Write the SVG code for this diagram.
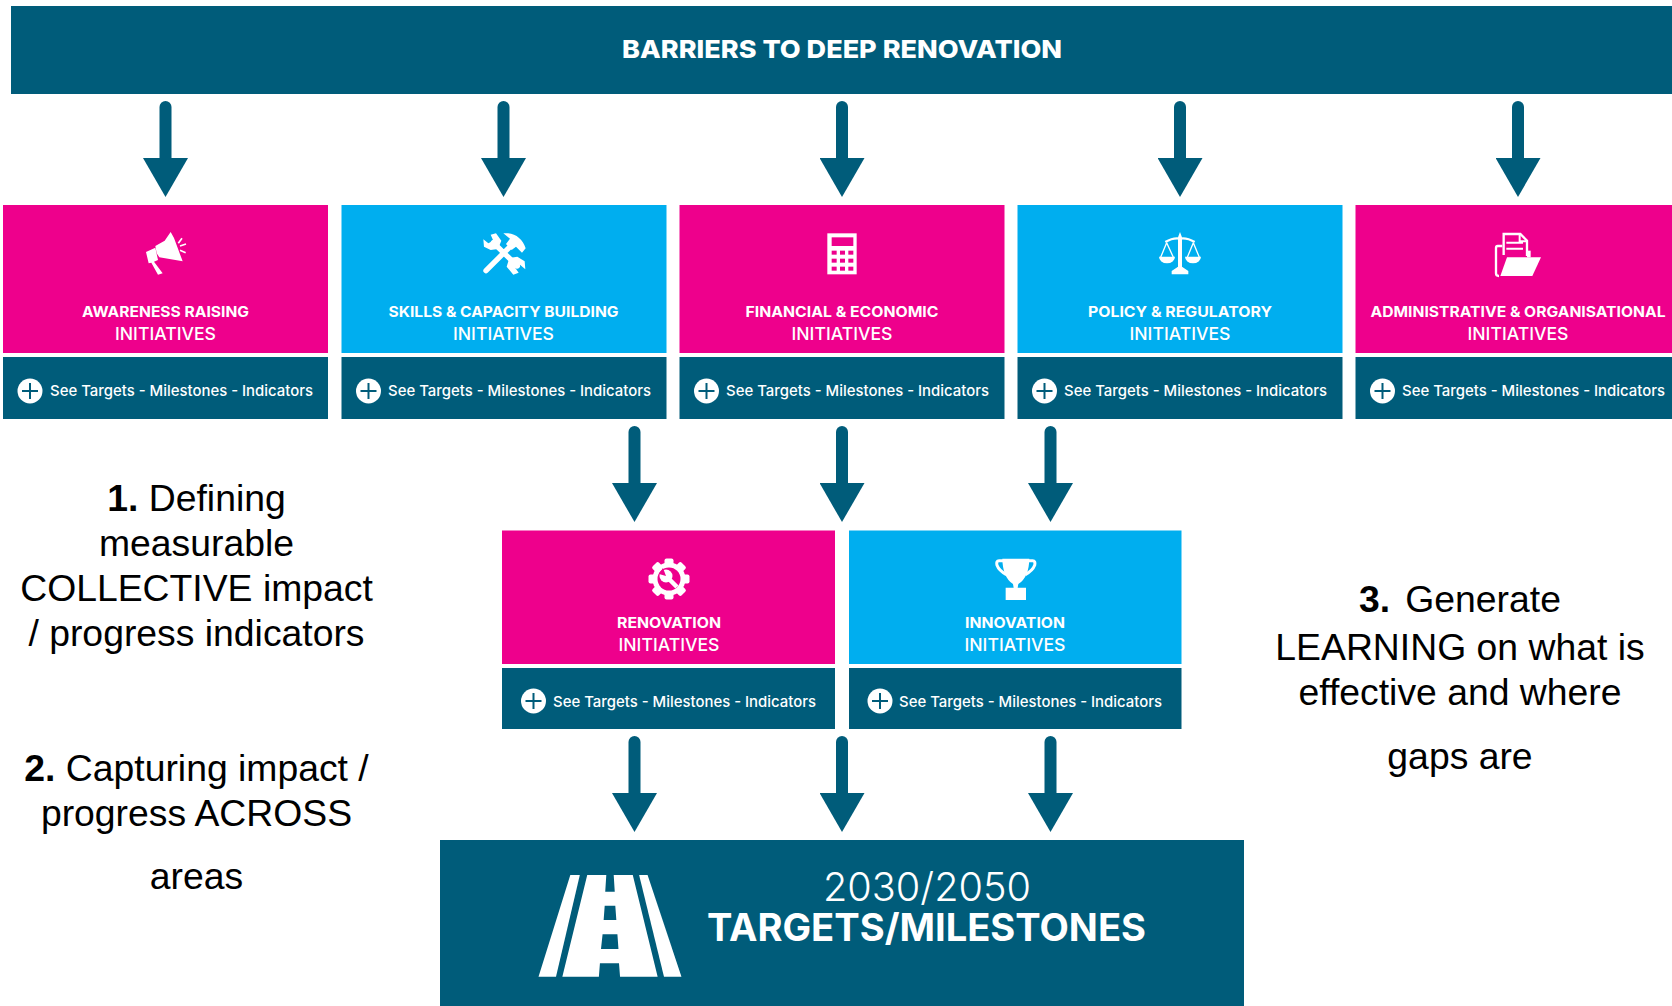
<svg xmlns="http://www.w3.org/2000/svg" width="1672" height="1006" viewBox="0 0 1672 1006">
<style>
.pink{fill:#ee008c}.cyan{fill:#00aeef}.dark{fill:#005c7a}
.t{font-family:"Inter","Lato","Liberation Sans",sans-serif;fill:#fff;text-anchor:middle}
.h{font-size:14.5px;font-weight:700}.i{font-size:17.5px;font-weight:500}
.s{font-size:15px;font-weight:500;text-anchor:start}
.note{font-family:"Liberation Sans",Arial,sans-serif;font-size:37.33px;fill:#000;text-anchor:middle}
.conn line{stroke:#005c7a;stroke-width:12;stroke-linecap:round;marker-end:url(#head)}
.plus{stroke:#005c7a;stroke-width:2;fill:none}
.w{fill:#fff}.ws{stroke:#fff;fill:none}
</style>
<defs>
<marker id="head" markerUnits="userSpaceOnUse" viewBox="0 -22.5 39 45" markerWidth="39" markerHeight="45" refX="0" refY="0" orient="auto"><path d="M0,-22.5L39,0L0,22.5Z" fill="#005c7a"/></marker>
<g id="more"><circle r="12.5" class="w"/><path class="plus" d="M-8,0H8M0,-8V8"/></g>
</defs>
<rect width="1672" height="1006" fill="#fff"/>
<g id="barriers"><rect class="dark" x="11" y="6" width="1661" height="88"/><text class="t" x="842" y="58" font-size="25" font-weight="800" textLength="440" lengthAdjust="spacingAndGlyphs">BARRIERS TO DEEP RENOVATION</text></g>

<g class="conn" id="connectors">
<line x1="165.5" y1="107" x2="165.5" y2="158"/><line x1="503.5" y1="107" x2="503.5" y2="158"/><line x1="842" y1="107" x2="842" y2="158"/><line x1="1180" y1="107" x2="1180" y2="158"/><line x1="1518" y1="107" x2="1518" y2="158"/>
<line x1="634.5" y1="432" x2="634.5" y2="483"/><line x1="842" y1="432" x2="842" y2="483"/><line x1="1050.5" y1="432" x2="1050.5" y2="483"/>
<line x1="634.5" y1="742" x2="634.5" y2="793"/><line x1="842" y1="742" x2="842" y2="793"/><line x1="1050.5" y1="742" x2="1050.5" y2="793"/>
</g>

<g id="awareness"><rect class="pink" x="3" y="205" width="325" height="148"/><rect class="dark" x="3" y="357" width="325" height="62"/>
<g transform="translate(130,210) scale(.3333)"><path class="w" d="M76,108L104,92L122,66L132,84L158,154L88,142L80,130Z"/><path class="w" d="M48,126L76,113L84,150L72,155L98,190L84,194L64,158L56,160Z"/><path class="ws" stroke-width="5" d="M145,100L156,85M150,108L168,102M150,121L167,128"/></g>
<text class="t h" x="165.5" y="317" textLength="167" lengthAdjust="spacingAndGlyphs">AWARENESS RAISING</text><text class="t i" x="165.5" y="340" textLength="101" lengthAdjust="spacingAndGlyphs">INITIATIVES</text>
<use href="#more" x="30" y="391"/><text class="t s" x="50" y="395.5" textLength="263" lengthAdjust="spacingAndGlyphs">See Targets - Milestones - Indicators</text></g>

<g id="skills"><rect class="cyan" x="341.5" y="205" width="325" height="148"/><rect class="dark" x="341.5" y="357" width="325" height="62"/>
<g transform="translate(460,220) scale(.3333)"><path class="ws" stroke-width="16" stroke-linecap="round" d="M100,68L172,138M78,152L158,72"/><path class="w" d="M70,58L85,70L100,62L92,44L108,40L124,62L114,87L92,90L72,80Z"/><path class="w" d="M196,148L180,134L166,144L176,158L160,164L140,140L148,114L172,110L194,124Z"/><path class="w" d="M130,40C162,36 188,55 197,85L186,98L168,80L155,90L138,72L150,56Z"/></g>
<text class="t h" x="503.5" y="317" textLength="230" lengthAdjust="spacingAndGlyphs">SKILLS &amp; CAPACITY BUILDING</text><text class="t i" x="503.5" y="340" textLength="101" lengthAdjust="spacingAndGlyphs">INITIATIVES</text>
<use href="#more" x="368.5" y="391"/><text class="t s" x="388" y="395.5" textLength="263" lengthAdjust="spacingAndGlyphs">See Targets - Milestones - Indicators</text></g>

<g id="financial"><rect class="pink" x="679.5" y="205" width="325" height="148"/><rect class="dark" x="679.5" y="357" width="325" height="62"/>
<g transform="translate(810,220) scale(.3333)"><rect class="w" x="52" y="40" width="88" height="123"/><g class="pink"><rect x="65" y="52" width="65" height="26"/><rect x="65" y="92" width="15" height="12"/><rect x="90" y="92" width="15" height="12"/><rect x="115" y="92" width="15" height="12"/><rect x="65" y="116" width="15" height="12"/><rect x="90" y="116" width="15" height="12"/><rect x="115" y="116" width="15" height="12"/><rect x="65" y="140" width="15" height="12"/><rect x="90" y="140" width="15" height="12"/><rect x="115" y="140" width="15" height="12"/></g></g>
<text class="t h" x="842" y="317" textLength="193" lengthAdjust="spacingAndGlyphs">FINANCIAL &amp; ECONOMIC</text><text class="t i" x="842" y="340" textLength="101" lengthAdjust="spacingAndGlyphs">INITIATIVES</text>
<use href="#more" x="706.5" y="391"/><text class="t s" x="726" y="395.5" textLength="263" lengthAdjust="spacingAndGlyphs">See Targets - Milestones - Indicators</text></g>

<g id="policy"><rect class="cyan" x="1017.5" y="205" width="325" height="148"/><rect class="dark" x="1017.5" y="357" width="325" height="62"/>
<g transform="translate(1150,220) scale(.3333)"><path class="w" d="M84,52L90,36L96,52V140L115,153V163H65V153L84,140Z"/><path class="ws" stroke-width="7" d="M46,66Q70,52 90,56Q110,52 134,66"/><path class="ws" stroke-width="4" d="M50,68L32,112M50,68L70,112M130,68L112,112M130,68L148,112"/><path class="w" d="M27,110H75A24,20 0 0 1 27,110ZM105,110H153A24,20 0 0 1 105,110Z"/></g>
<text class="t h" x="1180" y="317" textLength="184" lengthAdjust="spacingAndGlyphs">POLICY &amp; REGULATORY</text><text class="t i" x="1180" y="340" textLength="101" lengthAdjust="spacingAndGlyphs">INITIATIVES</text>
<use href="#more" x="1044.5" y="391"/><text class="t s" x="1064" y="395.5" textLength="263" lengthAdjust="spacingAndGlyphs">See Targets - Milestones - Indicators</text></g>

<g id="administrative"><rect class="pink" x="1355.5" y="205" width="316.5" height="148"/><rect class="dark" x="1355.5" y="357" width="316.5" height="62"/>
<g transform="translate(1485,220) scale(.3333)"><path class="ws" stroke-width="7" d="M56,105V42H106L126,62V108"/><path class="ws" stroke-width="6" d="M104,44V64H124M64,68H114M64,86H114"/><path class="ws" stroke-width="7" d="M52,78H38Q33,78 33,84V160Q33,168 42,168"/><path class="w" d="M46,168L66,112H168L142,168Z"/><path class="w" d="M126,92H137V112H126Z"/></g>
<text class="t h" x="1518" y="317" textLength="295" lengthAdjust="spacingAndGlyphs">ADMINISTRATIVE &amp; ORGANISATIONAL</text><text class="t i" x="1518" y="340" textLength="101" lengthAdjust="spacingAndGlyphs">INITIATIVES</text>
<use href="#more" x="1382.5" y="391"/><text class="t s" x="1402" y="395.5" textLength="263" lengthAdjust="spacingAndGlyphs">See Targets - Milestones - Indicators</text></g>

<g id="note1"><text class="note" x="196.5" y="511"><tspan font-weight="700">1.</tspan> Defining</text><text class="note" x="196.5" y="556">measurable</text><text class="note" x="196.5" y="601">COLLECTIVE impact</text><text class="note" x="196.5" y="645.5">/ progress indicators</text></g>
<g id="note2"><text class="note" x="196.5" y="781"><tspan font-weight="700">2.</tspan> Capturing impact /</text><text class="note" x="196.5" y="825.5">progress ACROSS</text><text class="note" x="196.5" y="889">areas</text></g>
<g id="note3"><text class="note" x="1460" y="611.5"><tspan font-weight="700">3.</tspan><tspan dx="15">Generate</tspan></text><text class="note" x="1460" y="659.5">LEARNING on what is</text><text class="note" x="1460" y="705">effective and where</text><text class="note" x="1460" y="769">gaps are</text></g>

<g id="renovation"><rect class="pink" x="502" y="530.5" width="333" height="133.5"/><rect class="dark" x="502" y="668" width="333" height="61"/>
<g transform="translate(669,579)"><g class="w"><circle r="16.5"/><rect x="-4.5" y="-20.5" width="9" height="41" rx="2"/><rect x="-4.5" y="-20.5" width="9" height="41" rx="2" transform="rotate(45)"/><rect x="-4.5" y="-20.5" width="9" height="41" rx="2" transform="rotate(90)"/><rect x="-4.5" y="-20.5" width="9" height="41" rx="2" transform="rotate(135)"/></g><circle r="11.5" class="pink"/><circle cx="-3" cy="-3" r="6.5" class="w"/><path class="pink" d="M-3,-3L-10,-5L-6,-11Z"/><path class="ws" stroke-width="4.5" d="M-2,-2L8,8"/></g>
<text class="t h" x="669" y="628" textLength="104" lengthAdjust="spacingAndGlyphs">RENOVATION</text><text class="t i" x="669" y="651" textLength="101" lengthAdjust="spacingAndGlyphs">INITIATIVES</text>
<use href="#more" x="533.5" y="701"/><text class="t s" x="553" y="706.5" textLength="263" lengthAdjust="spacingAndGlyphs">See Targets - Milestones - Indicators</text></g>

<g id="innovation"><rect class="cyan" x="849" y="530.5" width="332.5" height="133.5"/><rect class="dark" x="849" y="668" width="332.5" height="61"/>
<g transform="translate(985,550) scale(.3333)"><path class="w" d="M52,26H133Q132,82 100,102L98,113H123V150H62V113H86L84,102Q53,82 52,26Z"/><path class="ws" stroke-width="9" d="M58,32H42Q33,32 36,46Q42,62 64,74M127,32H143Q152,32 149,46Q143,62 121,74"/></g>
<text class="t h" x="1015" y="628" textLength="100" lengthAdjust="spacingAndGlyphs">INNOVATION</text><text class="t i" x="1015" y="651" textLength="101" lengthAdjust="spacingAndGlyphs">INITIATIVES</text>
<use href="#more" x="880" y="701"/><text class="t s" x="899" y="706.5" textLength="263" lengthAdjust="spacingAndGlyphs">See Targets - Milestones - Indicators</text></g>

<g id="targets"><rect class="dark" x="440" y="840" width="804" height="166"/>
<g transform="translate(430,830) scale(.5294,.3333)"><path class="w" d="M265,135H283L238,440H205Z"/><path class="w" d="M395,135H411L475,440H442Z"/><path class="w" d="M297,135H333L331,185H349L347,135H383L430,440H359L357,400H321L319,440H250ZM330,227L328,270H352L350,227ZM326,313L323,357H356L354,313Z" fill-rule="evenodd"/></g>
<text class="t" x="927" y="901" font-size="39" font-weight="300" textLength="208" lengthAdjust="spacingAndGlyphs">2030/2050</text>
<text class="t" x="926.5" y="941" font-size="38" font-weight="700" textLength="439" lengthAdjust="spacingAndGlyphs">TARGETS/MILESTONES</text></g>
</svg>
